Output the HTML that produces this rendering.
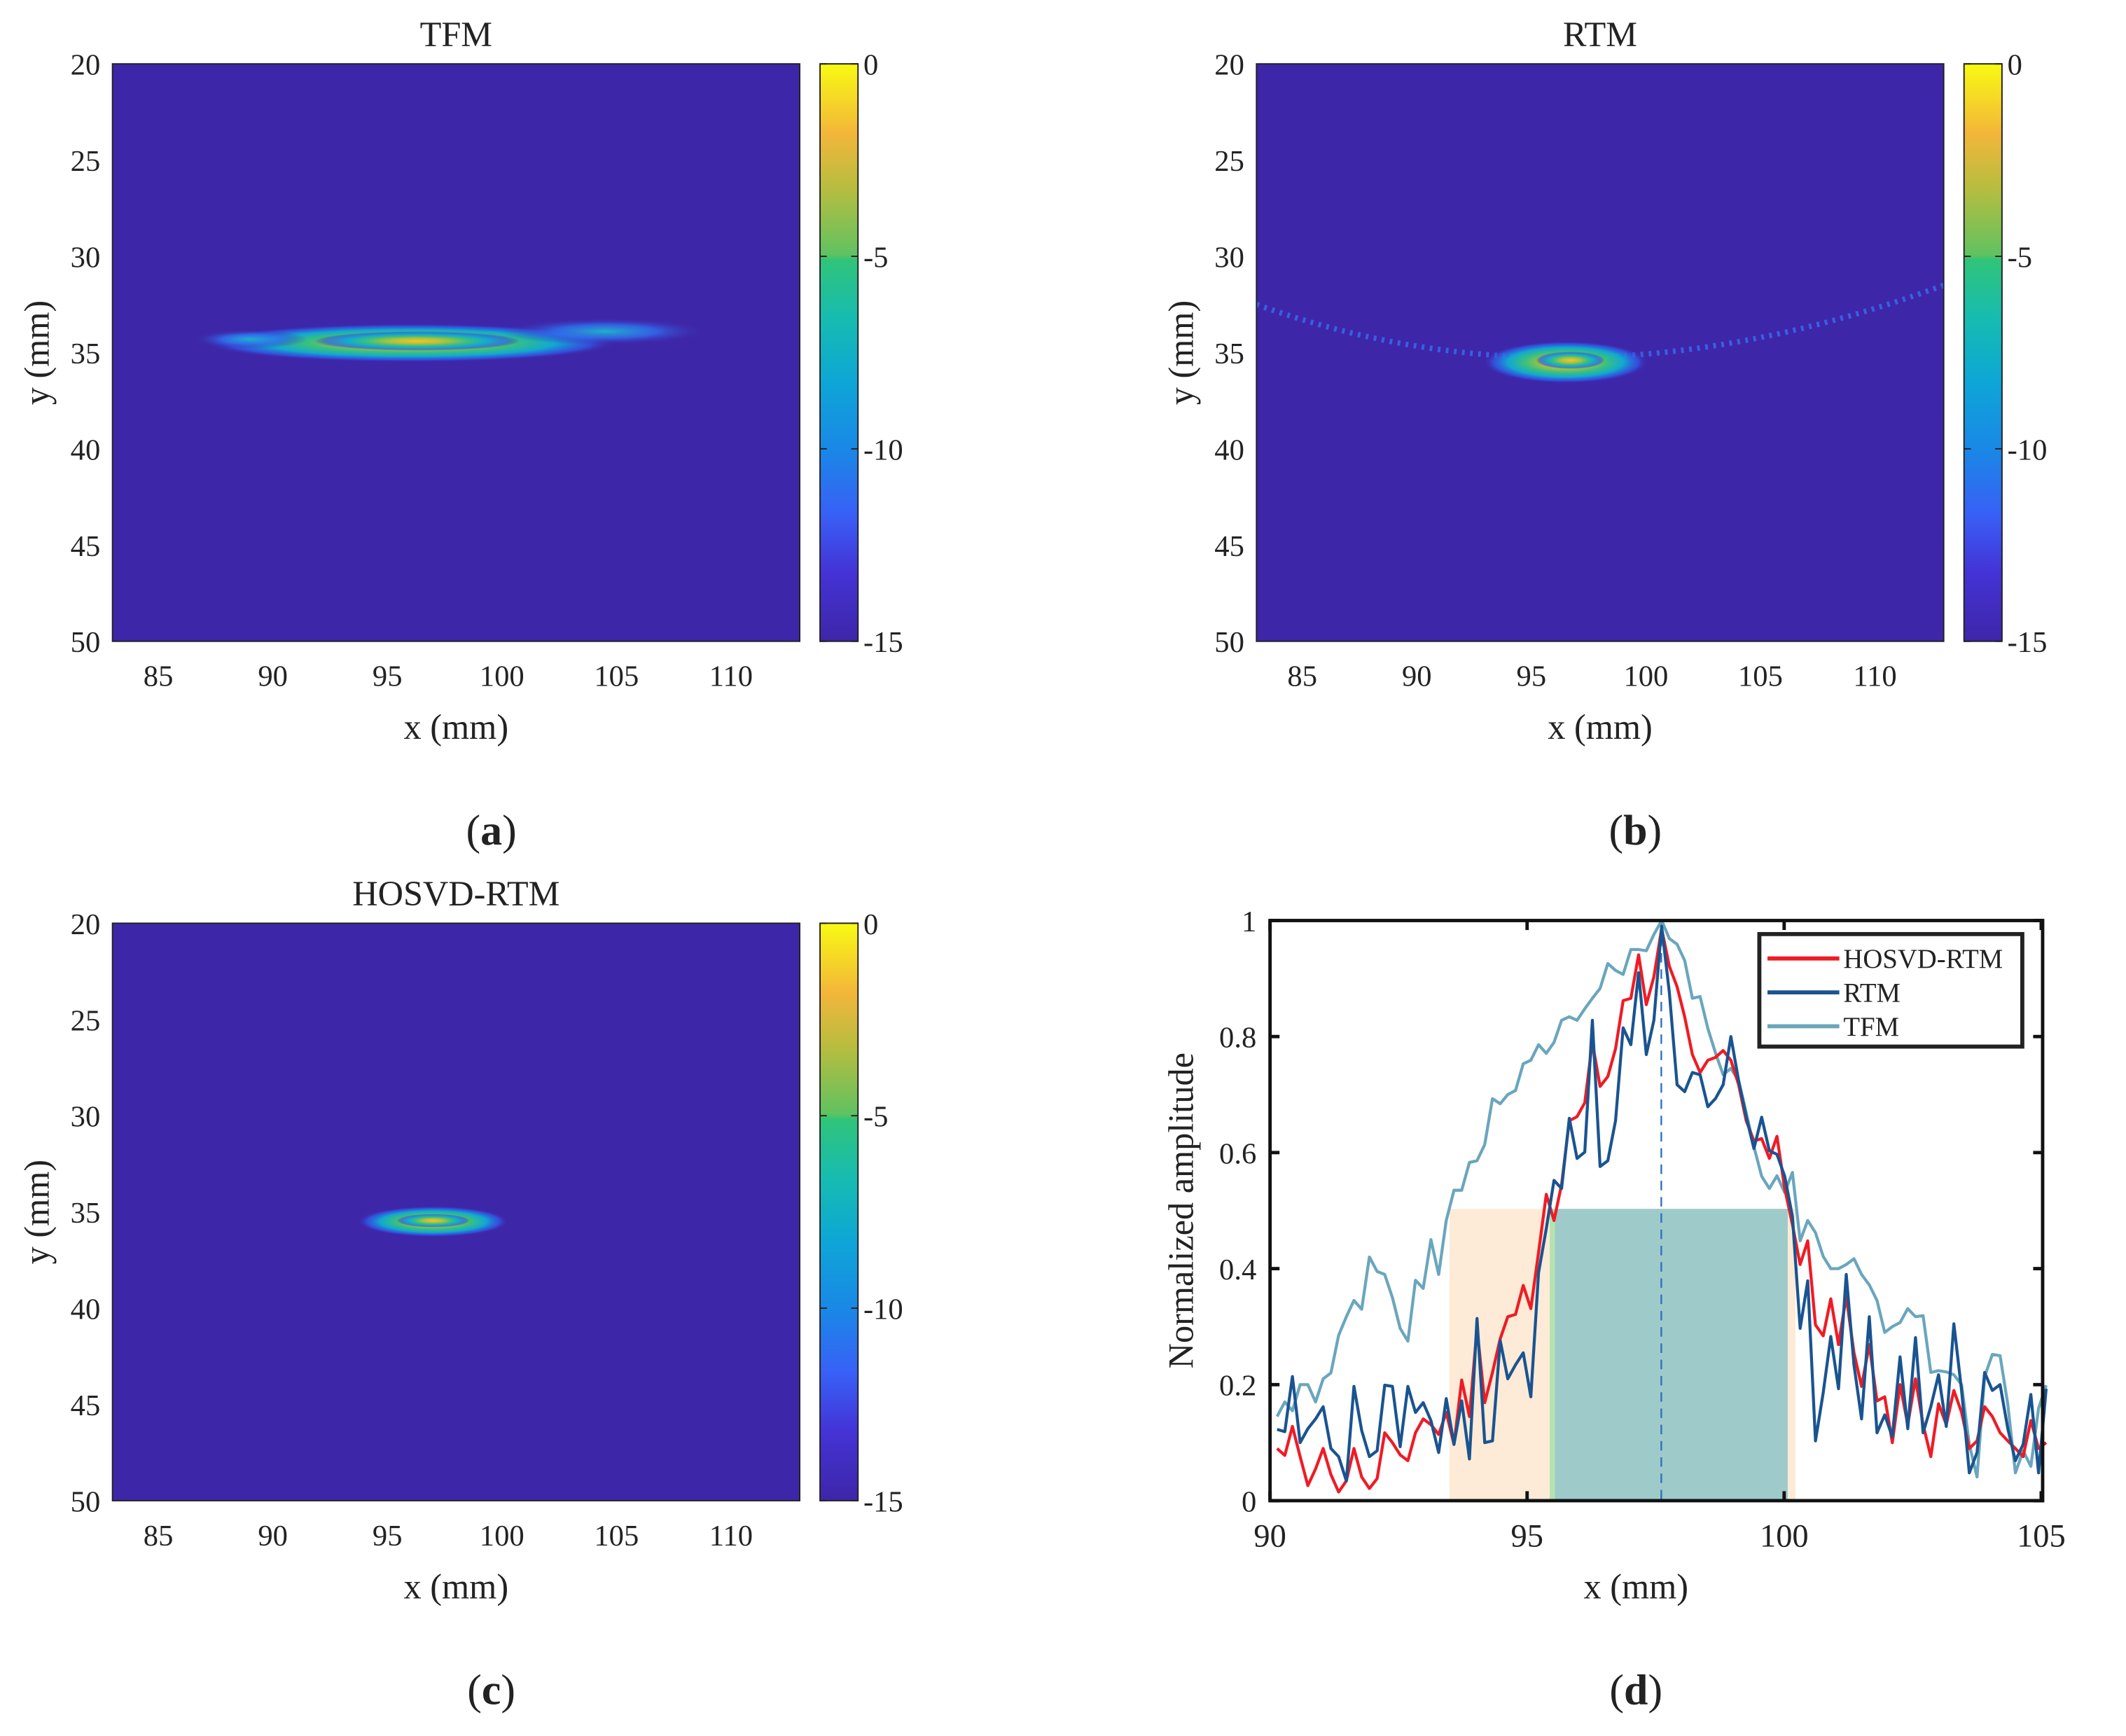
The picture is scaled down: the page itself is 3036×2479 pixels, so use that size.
<!DOCTYPE html>
<html><head><meta charset="utf-8"><style>
html,body{margin:0;padding:0;background:#fff}
svg{display:block}
text{font-family:"Liberation Serif",serif;fill:#222}
</style></head><body>
<svg id="fig" xmlns="http://www.w3.org/2000/svg" width="3036" height="2479" viewBox="0 0 1568.5 1280.5">
<defs>
<linearGradient id="parula" x1="0" y1="1" x2="0" y2="0">
<stop offset="0" stop-color="#3e26a8"/><stop offset="0.12" stop-color="#4433d6"/><stop offset="0.22" stop-color="#3860f6"/><stop offset="0.33" stop-color="#1a87e6"/><stop offset="0.45" stop-color="#0ea6d6"/><stop offset="0.56" stop-color="#17bcb0"/><stop offset="0.66" stop-color="#30c47a"/><stop offset="0.67" stop-color="#60c260"/><stop offset="0.78" stop-color="#b4bd40"/><stop offset="0.88" stop-color="#f3b63a"/><stop offset="1" stop-color="#f8fa12"/>
</linearGradient>
<radialGradient id="blob"><stop offset="0" stop-color="#f6c52a"/><stop offset="0.3" stop-color="#a8c040"/><stop offset="0.5" stop-color="#38c080"/><stop offset="0.7" stop-color="#12a8d0"/><stop offset="0.88" stop-color="#2f5ef0" stop-opacity="0.7"/><stop offset="1" stop-color="#3e26a8" stop-opacity="0"/></radialGradient>
<radialGradient id="blobWeak"><stop offset="0" stop-color="#20b0c8"/><stop offset="0.5" stop-color="#2f70f0" stop-opacity="0.8"/><stop offset="1" stop-color="#3e26a8" stop-opacity="0"/></radialGradient>
</defs>
<g id="root"></g>
</svg>
<script>
// ---- heatmap data (x, y in mm) ----
const xTicks = [85, 90, 95, 100, 105, 110];
const yTicks = [20, 25, 30, 35, 40, 45, 50];
const cbTicks = [0, -5, -10, -15];
const tfmBlobs = [[96, 34.5, 9, 1.0, 'blob'], [96.3, 34.4, 4.5, 0.5, 'blob'], [104.5, 33.9, 4.5, 0.7, 'blobWeak'], [89, 34.3, 2.5, 0.5, 'blobWeak']];
const rtmBlobs = [[96.5, 35.5, 3.6, 1.1, 'blob'], [96.7, 35.4, 1.5, 0.45, 'blob']];
const hosvdBlobs = [[97, 35.5, 3.3, 0.8, 'blob'], [97, 35.45, 1.6, 0.35, 'blob']];

// ---- line chart data (panel d) ----
const xStart = 90.137, xStep = 0.1496;
const tfm = [0.145,0.17,0.155,0.2,0.2,0.17,0.21,0.22,0.285,0.317,0.345,0.33,0.42,0.395,0.39,0.35,0.297,0.275,0.38,0.366,0.45,0.39,0.483,0.535,0.535,0.583,0.586,0.614,0.693,0.684,0.7,0.707,0.753,0.759,0.786,0.771,0.79,0.828,0.834,0.828,0.848,0.866,0.883,0.926,0.914,0.907,0.95,0.95,0.948,0.976,1.0,0.969,0.959,0.931,0.866,0.869,0.814,0.772,0.734,0.745,0.724,0.669,0.61,0.559,0.538,0.56,0.531,0.566,0.448,0.483,0.462,0.421,0.4,0.4,0.407,0.417,0.39,0.372,0.345,0.29,0.3,0.307,0.331,0.317,0.319,0.221,0.224,0.222,0.217,0.2,0.097,0.041,0.214,0.252,0.25,0.166,0.048,0.086,0.059,0.159,0.199];
const hosvd = [0.09,0.078,0.128,0.076,0.026,0.055,0.09,0.045,0.015,0.034,0.09,0.041,0.021,0.038,0.117,0.1,0.079,0.069,0.117,0.141,0.131,0.114,0.152,0.097,0.208,0.145,0.297,0.169,0.221,0.279,0.317,0.321,0.371,0.331,0.428,0.528,0.483,0.545,0.655,0.662,0.686,0.79,0.714,0.731,0.779,0.862,0.866,0.941,0.855,0.903,0.986,0.921,0.886,0.834,0.769,0.738,0.759,0.764,0.776,0.759,0.717,0.655,0.62,0.624,0.59,0.628,0.538,0.476,0.407,0.448,0.303,0.284,0.348,0.269,0.352,0.255,0.197,0.269,0.172,0.179,0.1,0.2,0.131,0.21,0.131,0.076,0.167,0.131,0.19,0.152,0.09,0.103,0.162,0.145,0.117,0.103,0.09,0.076,0.138,0.09,0.1];
const rtm = [0.123,0.119,0.214,0.1,0.124,0.141,0.162,0.09,0.076,0.034,0.197,0.121,0.076,0.086,0.199,0.197,0.093,0.197,0.152,0.169,0.138,0.083,0.176,0.097,0.172,0.072,0.314,0.1,0.103,0.276,0.21,0.234,0.255,0.179,0.393,0.469,0.552,0.538,0.659,0.59,0.601,0.828,0.576,0.586,0.655,0.815,0.786,0.91,0.769,0.828,0.99,0.876,0.717,0.705,0.738,0.734,0.679,0.693,0.717,0.8,0.724,0.662,0.607,0.661,0.603,0.597,0.559,0.49,0.297,0.379,0.103,0.186,0.283,0.193,0.39,0.234,0.141,0.317,0.117,0.148,0.11,0.248,0.124,0.281,0.117,0.162,0.217,0.128,0.305,0.19,0.048,0.083,0.221,0.19,0.2,0.124,0.069,0.097,0.183,0.048,0.193];
const dXTicks = [90, 95, 100, 105];
const dYTicks = [0, 0.2, 0.4, 0.6, 0.8, 1];
const orangeBand = [93.49, 100.22, 0.503];
const greenBand = [95.44, 95.54, 0.503];
const tealBand = [95.54, 100.07, 0.503];
const peakX = 97.61;

const NS = 'http://www.w3.org/2000/svg';
const root = document.getElementById('root');
function mk(tag, attrs, parent, txt) {
  const e = document.createElementNS(NS, tag);
  for (const k in attrs) e.setAttribute(k, attrs[k]);
  if (txt !== undefined) e.textContent = txt;
  (parent || root).appendChild(e);
  return e;
}

function heatPanel(ox, oy, title, blobs, label, key, arc) {
  const L = ox, R = ox + 507, T = oy, B = oy + 426;
  const sx = x => L + (x - 83) * (R - L) / 30;
  const sy = y => T + (y - 20) * (B - T) / 30;
  const g = mk('g', {});
  
  
  const bg = mk('rect', {x: L, y: T, width: R - L, height: B - T, fill: '#3e26a8'}, g);
  
  
  if (arc) {
    const p = mk('path', {d: `M ${sx(83)} ${sy(32.5)} Q ${sx(97)} ${sy(38.5)} ${sx(113)} ${sy(31.5)}`, fill: 'none', stroke: '#3a6ef0', 'stroke-width': 4, 'stroke-dasharray': '2 4', opacity: 0.8}, g);
    
    
  }
  blobs.forEach(b => {
    const e = mk('ellipse', {cx: sx(b[0]), cy: sy(b[1]), rx: b[2] * (R - L) / 30, ry: b[3] * (B - T) / 30, fill: `url(#${b[4]})`}, g);
    
    
  });
  mk('rect', {x: L, y: T, width: R - L, height: B - T, fill: 'none', stroke: '#222', 'stroke-width': 1}, g);
  xTicks.forEach(t => {
    const tx = mk('text', {x: sx(t), y: B + 33, 'font-size': 22, 'text-anchor': 'middle'}, g, t);
    
    
  });
  yTicks.forEach(t => {
    const tx = mk('text', {x: L - 9, y: sy(t) + 8, 'font-size': 22, 'text-anchor': 'end'}, g, t);
    
    
  });
  const cx = R + 15;
  const cb = mk('rect', {x: cx, y: T, width: 28, height: B - T, fill: 'url(#parula)', stroke: '#222', 'stroke-width': 1}, g);
  
  
  cbTicks.forEach(t => {
    const yy = T + (-t) / 15 * (B - T);
    mk('line', {x1: cx + 28, x2: cx + 23, y1: yy, y2: yy, stroke: '#222', 'stroke-width': 1}, g);
    mk('line', {x1: cx, x2: cx + 5, y1: yy, y2: yy, stroke: '#222', 'stroke-width': 1}, g);
    const tx = mk('text', {x: cx + 32, y: yy + 8, 'font-size': 22}, g, t === 0 ? '0' : '-' + (-t));
    
    
  });
  const tt = mk('text', {x: (L + R) / 2, y: T - 13, 'font-size': 26, 'text-anchor': 'middle'}, g, title);
  
  
  const xl = mk('text', {x: (L + R) / 2, y: B + 72, 'font-size': 26, 'text-anchor': 'middle'}, g, 'x (mm)');
  
  
  const yl = mk('text', {x: 0, y: 0, 'font-size': 26, 'text-anchor': 'middle', transform: `translate(${L - 47},${(T + B) / 2}) rotate(-90)`}, g, 'y (mm)');
  
  
  const pl = mk('text', {x: (L + R) / 2 + 26, y: B + 150, 'font-size': 32, 'text-anchor': 'middle'}, g);
  
  
  pl.innerHTML = `(<tspan font-weight="bold">${label}</tspan>)`;
}

heatPanel(83, 47, 'TFM', tfmBlobs, 'a', 'tfm', false);
heatPanel(927, 47, 'RTM', rtmBlobs, 'b', 'rtm', true);
heatPanel(83, 681, 'HOSVD-RTM', hosvdBlobs, 'c', 'hosvd-rtm', false);

(function () {
  const L = 937, R = 1507, T = 679, B = 1107;
  const sx = x => L + (x - 90) * 37.93;
  const sy = v => B - v * (B - T);
  const g = mk('g', {});
  
  
  const ob = mk('rect', {x: sx(orangeBand[0]), y: sy(orangeBand[2]), width: sx(orangeBand[1]) - sx(orangeBand[0]), height: B - sy(orangeBand[2]), fill: '#fdebd7'}, g);
  
  
  const gb = mk('rect', {x: sx(greenBand[0]), y: sy(greenBand[2]), width: sx(greenBand[1]) - sx(greenBand[0]), height: B - sy(greenBand[2]), fill: '#b5e3b0'}, g);
  
  
  const tb = mk('rect', {x: sx(tealBand[0]), y: sy(tealBand[2]), width: sx(tealBand[1]) - sx(tealBand[0]), height: B - sy(tealBand[2]), fill: '#9ecbc9'}, g);
  
  
  const dl = mk('line', {x1: sx(peakX), x2: sx(peakX), y1: T, y2: B, stroke: '#2a6fc0', 'stroke-width': 1.2, 'stroke-dasharray': '7 5'}, g);
  
  
  const series = [[tfm, '#6aa6bd', 'tfm-line'], [hosvd, '#ee1c25', 'hosvd-rtm-line'], [rtm, '#1a5490', 'rtm-line']];
  series.forEach(s => {
    const pts = s[0].map((v, i) => `${sx(xStart + xStep * i).toFixed(1)},${sy(v).toFixed(1)}`).join(' ');
    const pl = mk('polyline', {points: pts, fill: 'none', stroke: s[1], 'stroke-width': 2.2, 'stroke-linejoin': 'round'}, g);
    
    
  });
  mk('rect', {x: L, y: T, width: R - L, height: B - T, fill: 'none', stroke: '#111', 'stroke-width': 2.5}, g);
  dXTicks.forEach(t => {
    const x = sx(t);
    mk('line', {x1: x, x2: x, y1: B, y2: B - 7, stroke: '#111', 'stroke-width': 2.5}, g);
    mk('line', {x1: x, x2: x, y1: T, y2: T + 7, stroke: '#111', 'stroke-width': 2.5}, g);
    const tx = mk('text', {x: x, y: B + 34, 'font-size': 24, 'text-anchor': 'middle'}, g, t);
    
    
  });
  dYTicks.forEach(t => {
    const y = sy(t);
    mk('line', {x1: L, x2: L + 7, y1: y, y2: y, stroke: '#111', 'stroke-width': 2.5}, g);
    mk('line', {x1: R, x2: R - 7, y1: y, y2: y, stroke: '#111', 'stroke-width': 2.5}, g);
    const tx = mk('text', {x: L - 10, y: y + 8, 'font-size': 22, 'text-anchor': 'end'}, g, t);
    
    
  });
  const xl = mk('text', {x: (L + R) / 2 - 15, y: B + 72, 'font-size': 26, 'text-anchor': 'middle'}, g, 'x (mm)');
  
  
  const yl = mk('text', {x: 0, y: 0, 'font-size': 26, 'text-anchor': 'middle', transform: `translate(${L - 57},${(T + B) / 2}) rotate(-90)`}, g, 'Normalized amplitude');
  
  
  const lg = mk('g', {}, g);
  
  
  mk('rect', {x: 1298, y: 689, width: 194, height: 83, fill: '#fff', stroke: '#222', 'stroke-width': 3}, lg);
  const entries = [['HOSVD-RTM', '#ee1c25'], ['RTM', '#1a5490'], ['TFM', '#6aa6bd']];
  entries.forEach((en, i) => {
    const y = 707 + i * 25;
    const ln = mk('line', {x1: 1304, x2: 1357, y1: y, y2: y, stroke: en[1], 'stroke-width': 3}, lg);
    
    
    const tx = mk('text', {x: 1360, y: y + 7, 'font-size': 20}, lg, en[0]);
    
    
  });
  const pl = mk('text', {x: 1207, y: 1257, 'font-size': 32, 'text-anchor': 'middle'}, g);
  
  
  pl.innerHTML = '(<tspan font-weight="bold">d</tspan>)';
})();
</script>
</body></html>
